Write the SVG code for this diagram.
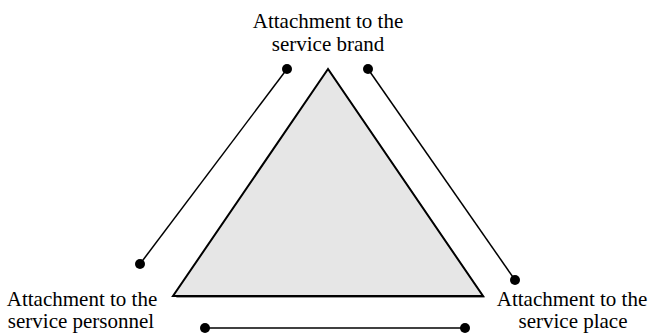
<svg xmlns="http://www.w3.org/2000/svg" width="649" height="333" viewBox="0 0 649 333">
<style>
text{font-family:"Liberation Serif","Times New Roman",serif;font-size:21px;fill:#000;text-anchor:middle}
.c{stroke:#000;stroke-width:1.5;fill:none}
.d{fill:#000}
</style>
<rect width="649" height="333" fill="#fff"/>
<g id="triangle">
<polygon points="330,71 176,298 485,298" fill="#999"/>
<polygon points="328,69 173,296 483,296" fill="#e6e6e6" stroke="#000" stroke-width="2"/>
</g>
<g id="connectors">
<line class="c" x1="287" y1="69" x2="140" y2="264"/>
<circle class="d" cx="287" cy="69" r="5"/>
<circle class="d" cx="140" cy="264" r="5"/>
<line class="c" x1="368" y1="69" x2="515" y2="280"/>
<circle class="d" cx="368" cy="69" r="5"/>
<circle class="d" cx="515" cy="280" r="5"/>
<line class="c" x1="205" y1="328" x2="465" y2="328"/>
<circle class="d" cx="205" cy="328" r="5"/>
<circle class="d" cx="465" cy="328" r="5"/>
</g>
<g id="brand">
<text x="328" y="28">Attachment to the</text>
<text x="328" y="51">service brand</text>
</g>
<g id="personnel">
<text x="82" y="306">Attachment to the</text>
<text x="81" y="328">service personnel</text>
</g>
<g id="place">
<text x="572" y="306">Attachment to the</text>
<text x="573" y="328">service place</text>
</g>
</svg>
